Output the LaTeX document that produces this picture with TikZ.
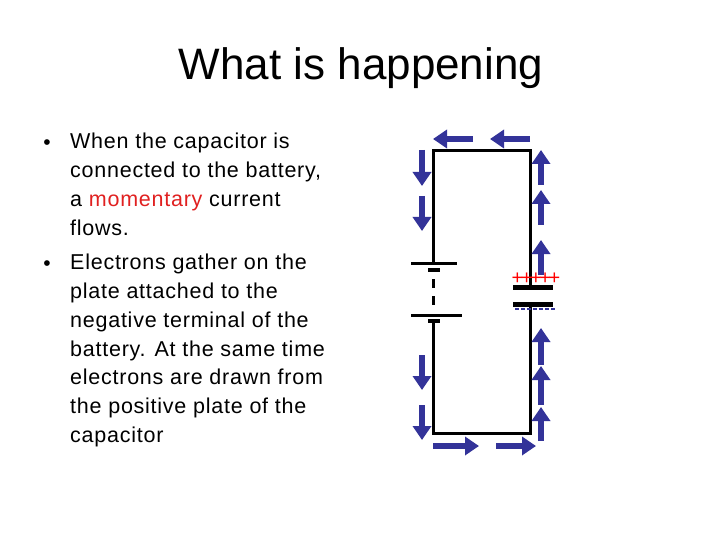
\documentclass[tikz,border=0pt]{standalone}
\usepackage{fontspec}
\setmainfont{Liberation Sans}
\usetikzlibrary{arrows.meta}
\definecolor{arr}{HTML}{333399}
\definecolor{mom}{HTML}{E02020}
\begin{document}
\begin{tikzpicture}[x=1pt,y=-1pt,
  wire/.style={line width=3pt},
  flow/.style={arr,line width=6pt,-{Triangle[length=14pt,width=18pt]}},
  txt/.style={anchor=north west,align=left,inner sep=0pt,font=\fontsize{21.5}{28.8}\selectfont\addfontfeatures{LetterSpace=3.5}}]
\useasboundingbox (0,0) rectangle (720,540);
\node (title) at (361,68) {\fontsize{44}{46}\selectfont What is happening};
\node (b1) at (47,145) {\fontsize{21}{24}\selectfont •};
\node[txt] (t1) at (70,133) {When the capacitor is\\connected to the battery,\\a \textcolor{mom}{momentary} current\\flows.};
\node (b2) at (47,266) {\fontsize{21}{24}\selectfont •};
\node[txt] (t2) at (70,254) {Electrons gather on the\\plate attached to the\\negative terminal of the\\battery. At the same time\\electrons are drawn from\\the positive plate of the\\capacitor};
% circuit
\coordinate (bt1) at (433,263);
\coordinate (bb2) at (433,321);
\coordinate (tl) at (433,151);
\coordinate (tr) at (530,151);
\coordinate (bl) at (433,433);
\coordinate (br) at (530,433);
\coordinate (c1) at (530,287);
\coordinate (c2) at (530,304);
\draw[wire] (bt1) -- (tl) -- (tr) -- (c1);
\draw[wire] (c2) -- (br) -- (bl) -- (bb2);
\draw[wire] (411,263) -- (457,263);
\draw[line width=4pt] (428,270) -- (440,270);
\draw[wire,dash pattern=on 9pt off 8pt] (433,279) -- (433,312);
\draw[wire] (411,315) -- (462,315);
\draw[line width=4pt] (428,321) -- (440,321);
\draw[line width=5pt] (513,287) -- (553,287);
\draw[line width=5pt] (513,304) -- (553,304);
\node[red,font=\fontsize{20}{20}\selectfont,inner sep=0pt] (plus) at (536,279) {\addfontfeatures{LetterSpace=-12}+++++};
\draw[arr,line width=1.5pt,dash pattern=on 4pt off 2pt] (515,309) -- (555,309);
% arrows
\draw[flow] (473,139) -- (433,139);
\draw[flow] (530,139) -- (490,139);
\draw[flow] (422,150) -- (422,186);
\draw[flow] (422,196) -- (422,231);
\draw[flow] (422,355) -- (422,390);
\draw[flow] (422,405) -- (422,440);
\draw[flow] (433,446) -- (479,446);
\draw[flow] (496,446) -- (536,446);
\draw[flow] (541,185) -- (541,150);
\draw[flow] (541,225) -- (541,190);
\draw[flow] (541,275) -- (541,240);
\draw[flow] (541,365) -- (541,328);
\draw[flow] (541,405) -- (541,366);
\draw[flow] (541,441) -- (541,407);
\end{tikzpicture}
\end{document}
